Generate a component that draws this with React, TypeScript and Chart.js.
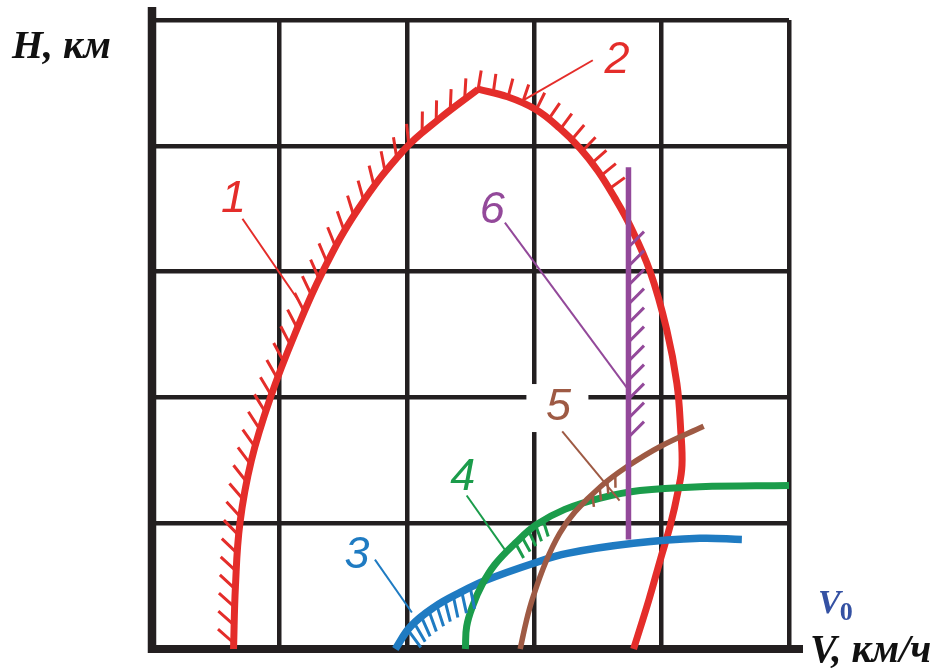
import React, { useEffect, useRef } from 'react';
import { Chart, registerables } from 'chart.js';

Chart.register(...registerables);

// Axis ranges, in grid cells
const V_MAX = 5;
const H_MAX = 5;

// Curve 1: left branch of the boundary
const curve1V = [0.64, 0.655, 0.69, 0.78, 0.93, 1.12, 1.34, 1.62, 1.98, 2.25, 2.56];
const curve1H = [0, 0.5, 1.0, 1.5, 2.0, 2.5, 3.0, 3.5, 3.97, 4.21, 4.45];
// Curve 2: right branch of the boundary
const curve2V = [2.56, 2.79, 3.01, 3.2, 3.36, 3.5, 3.63, 3.75, 3.91, 4.04, 4.12, 4.15, 4.16, 4.13, 4.07, 3.99, 3.9, 3.78];
const curve2H = [4.45, 4.39, 4.29, 4.14, 3.98, 3.8, 3.59, 3.37, 3.0, 2.54, 2.11, 1.74, 1.46, 1.26, 0.99, 0.71, 0.39, 0];
// Curve 3
const curve3V = [1.91, 2.03, 2.21, 2.42, 2.63, 2.99, 3.26, 3.78, 4.3, 4.63];
const curve3H = [0, 0.18, 0.33, 0.45, 0.55, 0.68, 0.76, 0.84, 0.88, 0.87];
// Curve 4
const curve4V = [2.46, 2.47, 2.52, 2.59, 2.69, 2.85, 3.02, 3.24, 3.52, 3.83, 4.3, 5.0];
const curve4H = [0, 0.18, 0.35, 0.51, 0.67, 0.84, 0.99, 1.11, 1.2, 1.26, 1.29, 1.3];
// Curve 5
const curve5V = [2.89, 2.94, 2.99, 3.09, 3.2, 3.32, 3.52, 3.73, 3.99, 4.33];
const curve5H = [0, 0.23, 0.41, 0.69, 0.92, 1.09, 1.29, 1.45, 1.61, 1.77];
// Curve 6: vertical limit
const curve6V = [3.74, 3.74];
const curve6H = [3.83, 0.87];

// Curve numbers with their leader lines
const labelText = ['1', '2', '3', '4', '5', '6'];
const labelV = [0.64, 3.65, 1.61, 2.44, 3.19, 2.67];
const labelH = [3.47, 4.58, 0.64, 1.26, 1.82, 3.39];
const leaderFromV = [0.71, 3.46, 1.75, 2.47, 3.22, 2.77];
const leaderFromH = [3.42, 4.68, 0.71, 1.22, 1.73, 3.39];
const leaderToV = [1.15, 2.91, 2.04, 2.79, 3.67, 3.74];
const leaderToH = [2.77, 4.36, 0.29, 0.76, 1.18, 2.06];
const labelBackdrop = [false, false, false, false, true, false];

const GRID = '#231f20';
const RED = '#e42d2a';
const BLUE = '#1f7bc2';
const GREEN = '#1b9c4b';
const BROWN = '#9e5a44';
const PURPLE = '#93499a';
const V0_BLUE = '#3451a3';
const labelColor = [RED, RED, BLUE, GREEN, BROWN, PURPLE];

type Hatch = {
  ds: number; axis: 'x' | 'y'; from: number; to: number;
  side: number; tilt: number; step: number; len: number; width: number; phase: number;
};

// Hatching along curves (dataset index, range along an axis, styling)
const hatches: Hatch[] = [
  { ds: 5, axis: 'y', from: 0.02, to: 4.46, side: 1, tilt: 40, step: 18, len: 21, width: 3, phase: 6 },
  { ds: 4, axis: 'y', from: 3.6, to: 4.46, side: 1, tilt: -5, step: 15.5, len: 19, width: 3, phase: 0 },
  { ds: 3, axis: 'x', from: 1.98, to: 2.52, side: -1, tilt: -15, step: 9.5, len: 22, width: 3, phase: 4 },
  { ds: 2, axis: 'x', from: 2.83, to: 3.12, side: -1, tilt: -15, step: 9, len: 17, width: 3, phase: 4 },
  { ds: 1, axis: 'x', from: 3.45, to: 3.7, side: -1, tilt: -35, step: 10, len: 13, width: 2.5, phase: 4 },
  { ds: 0, axis: 'y', from: 1.55, to: 3.23, side: 1, tilt: -45, step: 19, len: 22, width: 3, phase: 4 },
];

const toPoints = (vs: number[], hs: number[]) => vs.map((v, i) => ({ x: v, y: hs[i] }));

function sampleCurve(meta: any) {
  const pts = meta.data as any[];
  const out: { x: number; y: number }[] = [];
  for (let i = 0; i < pts.length - 1; i++) {
    const a = pts[i];
    const b = pts[i + 1];
    const c1x = a.cp2x ?? a.x, c1y = a.cp2y ?? a.y;
    const c2x = b.cp1x ?? b.x, c2y = b.cp1y ?? b.y;
    const n = 30;
    for (let k = 0; k < n; k++) {
      const t = k / n, m = 1 - t;
      out.push({
        x: m * m * m * a.x + 3 * m * m * t * c1x + 3 * m * t * t * c2x + t * t * t * b.x,
        y: m * m * m * a.y + 3 * m * m * t * c1y + 3 * m * t * t * c2y + t * t * t * b.y,
      });
    }
  }
  const last = pts[pts.length - 1];
  out.push({ x: last.x, y: last.y });
  return out;
}

const framePlugin = {
  id: 'frame',
  beforeDatasetsDraw(chart: any) {
    const { ctx, chartArea: ca, scales } = chart;
    const xs = scales.x, ys = scales.y;
    const x0 = xs.getPixelForValue(0);
    const y0 = ys.getPixelForValue(0);
    ctx.save();
    ctx.strokeStyle = GRID;
    ctx.lineCap = 'butt';
    ctx.lineWidth = 8.5;
    ctx.beginPath();
    ctx.moveTo(x0, ca.top - 13);
    ctx.lineTo(x0, y0 + 4);
    ctx.stroke();
    ctx.lineWidth = 8;
    ctx.beginPath();
    ctx.moveTo(x0 - 4, y0);
    ctx.lineTo(ca.right + 14, y0);
    ctx.stroke();
    // white backdrop behind labels that sit on grid lines
    ctx.fillStyle = '#ffffff';
    labelText.forEach((_, i) => {
      if (!labelBackdrop[i]) return;
      const cx = xs.getPixelForValue(labelV[i]);
      const by = ys.getPixelForValue(labelH[i]);
      ctx.fillRect(cx - 32, by - 36, 62, 48);
    });
    ctx.restore();
  },
};

const hatchPlugin = {
  id: 'hatch',
  afterDatasetsDraw(chart: any) {
    const { ctx, scales } = chart;
    const xs = scales.x, ys = scales.y;
    ctx.save();
    ctx.lineCap = 'butt';
    hatches.forEach((h) => {
      const meta = chart.getDatasetMeta(h.ds);
      const path = sampleCurve(meta);
      const lo = Math.min(h.from, h.to), hi = Math.max(h.from, h.to);
      const a = (h.tilt * Math.PI) / 180;
      ctx.strokeStyle = chart.data.datasets[h.ds].borderColor;
      ctx.lineWidth = h.width;
      ctx.beginPath();
      let next = h.phase;
      let travelled = 0;
      for (let i = 0; i < path.length - 1; i++) {
        const p = path[i], q = path[i + 1];
        const dx = q.x - p.x, dy = q.y - p.y;
        const L = Math.hypot(dx, dy);
        if (L === 0) continue;
        while (next <= travelled + L) {
          const f = (next - travelled) / L;
          const x = p.x + dx * f, y = p.y + dy * f;
          const tx = dx / L, ty = dy / L;
          const v = h.axis === 'x' ? xs.getValueForPixel(x) : ys.getValueForPixel(y);
          if (v >= lo && v <= hi) {
            const nx = h.side * ty, ny = -h.side * tx;
            const ux = Math.cos(a) * nx + Math.sin(a) * tx;
            const uy = Math.cos(a) * ny + Math.sin(a) * ty;
            ctx.moveTo(x, y);
            ctx.lineTo(x + ux * h.len, y + uy * h.len);
          }
          next += h.step;
        }
        travelled += L;
      }
      ctx.stroke();
    });
    ctx.restore();
  },
};

const textPlugin = {
  id: 'texts',
  afterDraw(chart: any) {
    const { ctx, chartArea: ca, scales } = chart;
    const xs = scales.x, ys = scales.y;
    ctx.save();
    // leader lines and curve numbers
    labelText.forEach((t, i) => {
      ctx.strokeStyle = labelColor[i];
      ctx.lineWidth = 2;
      ctx.beginPath();
      ctx.moveTo(xs.getPixelForValue(leaderFromV[i]), ys.getPixelForValue(leaderFromH[i]));
      ctx.lineTo(xs.getPixelForValue(leaderToV[i]), ys.getPixelForValue(leaderToH[i]));
      ctx.stroke();
      ctx.fillStyle = labelColor[i];
      ctx.font = 'italic 45px "Liberation Sans", Arial, sans-serif';
      ctx.textAlign = 'center';
      ctx.textBaseline = 'alphabetic';
      ctx.fillText(t, xs.getPixelForValue(labelV[i]), ys.getPixelForValue(labelH[i]));
    });
    // axis titles
    ctx.fillStyle = '#111111';
    ctx.textAlign = 'left';
    ctx.font = 'italic bold 40px "Liberation Serif", "Times New Roman", serif';
    ctx.fillText('H, км', 12, ca.top + 38);
    ctx.fillText('V, км/ч', ca.right + 21, ca.bottom + 13);
    ctx.fillStyle = V0_BLUE;
    ctx.font = 'italic bold 34px "Liberation Serif", "Times New Roman", serif';
    ctx.fillText('V', ca.right + 29, ca.bottom - 36);
    const vw = ctx.measureText('V').width;
    ctx.font = 'bold 26px "Liberation Serif", "Times New Roman", serif';
    ctx.fillText('0', ca.right + 29 + vw - 1, ca.bottom - 29);
    ctx.restore();
  },
};

const line = (label: string, vs: number[], hs: number[], color: string, width: number) => ({
  label,
  data: toPoints(vs, hs),
  showLine: true,
  borderColor: color,
  backgroundColor: color,
  borderWidth: width,
  pointRadius: 0,
  fill: false,
  tension: 0.4,
  borderCapStyle: 'butt' as const,
  clip: 8,
});

export default function App() {
  const ref = useRef<HTMLCanvasElement | null>(null);
  useEffect(() => {
    if (!ref.current) return;
    const chart = new Chart(ref.current, {
      type: 'scatter',
      data: {
        datasets: [
          line('6', curve6V, curve6H, PURPLE, 5.5),
          line('5', curve5V, curve5H, BROWN, 5.5),
          line('4', curve4V, curve4H, GREEN, 7),
          line('3', curve3V, curve3H, BLUE, 7.5),
          line('2', curve2V, curve2H, RED, 7),
          line('1', curve1V, curve1H, RED, 7),
        ] as any,
      },
      options: {
        animation: false,
        responsive: false,
        events: [],
        layout: { padding: { left: 152, right: 155, top: 20, bottom: 19 } },
        plugins: { legend: { display: false }, tooltip: { enabled: false }, title: { display: false } },
        scales: {
          x: {
            type: 'linear', min: 0, max: V_MAX,
            ticks: { display: false, stepSize: 1 },
            grid: { color: GRID, lineWidth: 4.5, drawTicks: false },
            border: { display: false },
          },
          y: {
            type: 'linear', min: 0, max: H_MAX,
            ticks: { display: false, stepSize: 1 },
            grid: { color: GRID, lineWidth: 4.5, drawTicks: false },
            border: { display: false },
          },
        },
      },
      plugins: [framePlugin, hatchPlugin, textPlugin],
    });
    return () => chart.destroy();
  }, []);
  return (
    <canvas
      ref={ref}
      width={944}
      height={668}
      style={{ position: 'absolute', left: 0, top: 0, display: 'block' }}
    />
  );
}
